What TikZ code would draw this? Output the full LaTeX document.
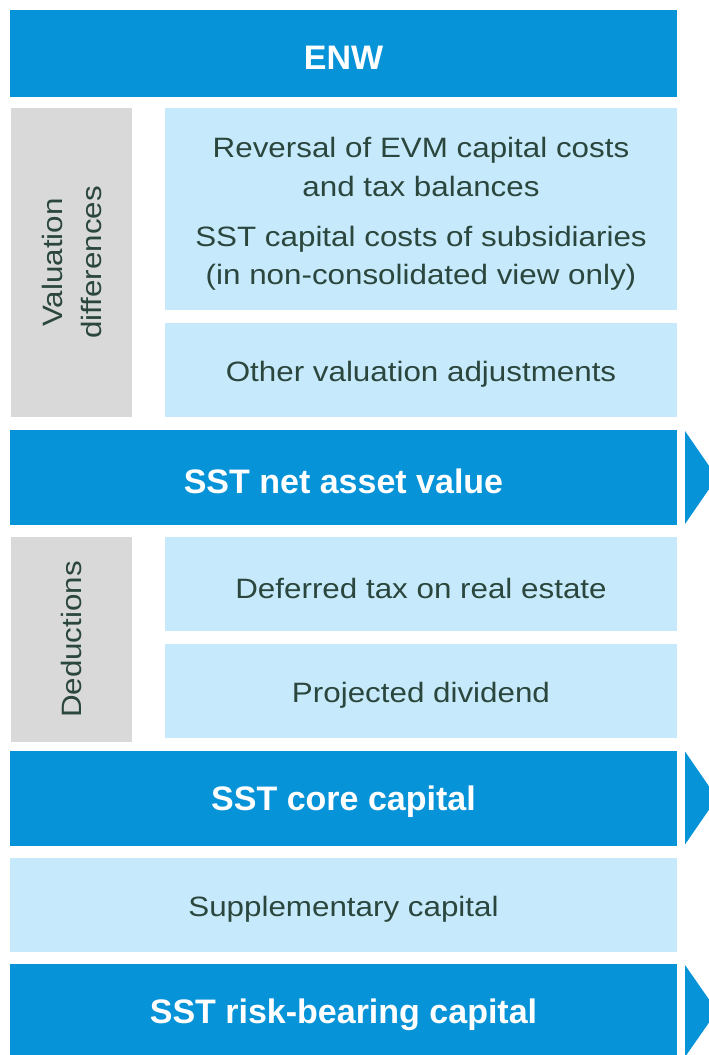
\documentclass[tikz,border=0pt]{standalone}
\usepackage{fontspec}
\setmainfont{Liberation Sans}
\newfontfamily\regfont{Liberation Sans}[FakeStretch=1.12]
\usetikzlibrary{fit}
\definecolor{barblue}{HTML}{0693D8}
\definecolor{paleblue}{HTML}{C6EAFB}
\definecolor{sidegray}{HTML}{D9D9D9}
\definecolor{inktext}{HTML}{2A463D}
\begin{document}
\begin{tikzpicture}[x=0.75pt,y=-0.75pt,
  area/.style={inner sep=0pt, outer sep=0pt, draw=none},
  headbar/.style={area, fill=barblue},
  headtext/.style={inner sep=0pt, text=white, yshift=-3pt,
    font=\bfseries\fontsize{25.5}{30}\selectfont},
  itembox/.style={area, fill=paleblue},
  sidebox/.style={area, fill=sidegray},
  basetext/.style={inner sep=0pt, text=inktext, align=center,
    font=\regfont\fontsize{21}{29.25}\selectfont},
  itemtext/.style={basetext, yshift=-3.75pt},
  sidelabel/.style={basetext, rotate=90},
  itemline/.style={basetext, anchor=base},
  pointer/.style={fill=barblue, draw=none}]
\clip (0,0) rectangle (709,1055);
\fill[white] (0,0) rectangle (709,1055);

% top bar
\node[headbar, fit={(10,10)(677,97)}] (enw) {};
\node[headtext] (enwt) at (enw.center) {ENW};

% valuation differences block
\node[sidebox, fit={(11,108.5)(132,416.5)}] (valside) {};
\node[sidelabel] (vallabel) at (valside.center) {Valuation\\differences};
\node[itembox, fit={(165,108.5)(677,310)}] (rev) {};
\node[itemline] (rev1) at (421,158) {Reversal of EVM capital costs};
\node[itemline] (rev2) at (421,197) {and tax balances};
\node[itemline] (sub1) at (421,247) {SST capital costs of subsidiaries};
\node[itemline] (sub2) at (421,285) {(in non-consolidated view only)};
\node[itembox, fit={(165,323)(677,416.5)}] (other) {};
\node[itemtext] (othert) at (other.center) {Other valuation adjustments};

% net asset value
\node[headbar, fit={(10,430)(677,524.5)}] (nav) {};
\node[headtext] (navt) at (nav.center) {SST net asset value};
\fill[pointer] (685,431) -- (717,477.5) -- (685,524) -- cycle;

% deductions block
\node[sidebox, fit={(11,537)(132,742)}] (dedside) {};
\node[sidelabel] (dedlabel) at (dedside.center) {Deductions};
\node[itembox, fit={(165,537)(677,630.5)}] (dtax) {};
\node[itemtext] (dtaxt) at (dtax.center) {Deferred tax on real estate};
\node[itembox, fit={(165,644)(677,737.5)}] (div) {};
\node[itemtext] (divt) at (div.center) {Projected dividend};

% core capital
\node[headbar, fit={(10,750.5)(677,845.5)}] (core) {};
\node[headtext] (coret) at (core.center) {SST core capital};
\fill[pointer] (685,751.5) -- (717,798) -- (685,844.5) -- cycle;

% supplementary capital
\node[itembox, fit={(10,858)(677,951.5)}] (supp) {};
\node[itemtext] (suppt) at (supp.center) {Supplementary capital};

% risk-bearing capital
\node[headbar, fit={(10,964)(677,1058)}] (rbc) {};
\node[headtext] (rbct) at (rbc.center) {SST risk-bearing capital};
\fill[pointer] (685,965) -- (717,1011) -- (685,1057) -- cycle;
\end{tikzpicture}
\end{document}
